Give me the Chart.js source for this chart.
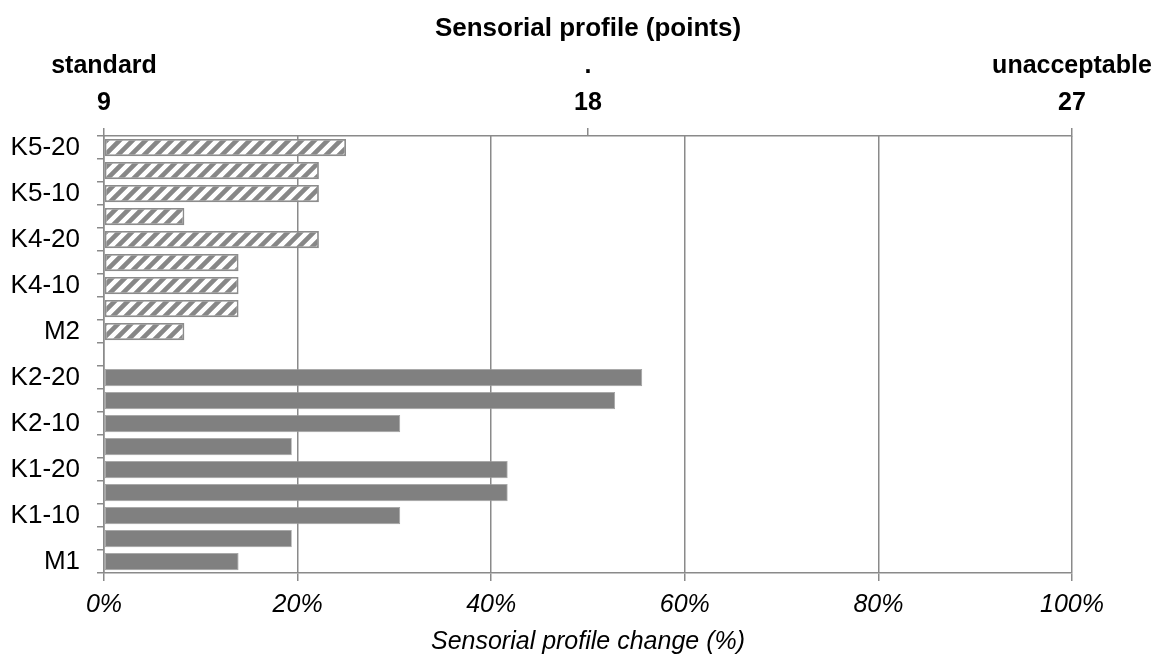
<!DOCTYPE html>
<html>
<head>
<meta charset="utf-8">
<script src="https://cdn.jsdelivr.net/npm/chart.js@4/dist/chart.umd.min.js"></script>
<style>
  html, body { margin: 0; padding: 0; background: #fff; }
  #wrap { width: 1154px; height: 659px; }
</style>
</head>
<body>
<div id="wrap"><canvas id="c" width="1154" height="659"></canvas></div>
<script>
// ---- data ----
const hatchedCategories = ['K5-20', 'K5-15', 'K5-10', 'K5-5', 'K4-20', 'K4-15', 'K4-10', 'K4-5', 'M2'];
const hatchedValues     = [25.0, 22.2, 22.2, 8.3, 22.2, 13.9, 13.9, 13.9, 8.3];
const solidCategories   = ['K2-20', 'K2-15', 'K2-10', 'K2-5', 'K1-20', 'K1-15', 'K1-10', 'K1-5', 'M1'];
const solidValues       = [55.6, 52.8, 30.6, 19.4, 41.7, 41.7, 30.6, 19.4, 13.9];
const percentTicks      = [0, 20, 40, 60, 80, 100];
const pointTicks        = [9, 18, 27];
const pointTickWords    = ['standard', '.', 'unacceptable'];

// ---- build ----
const labels = [...hatchedCategories, '', ...solidCategories];
const hatchedData = [...hatchedValues, null, ...solidValues.map(() => null)];
const solidData = [...hatchedValues.map(() => null), null, ...solidValues];

function makeHatch() {
  const s = 13;
  const c = document.createElement('canvas');
  c.width = s; c.height = s;
  const g = c.getContext('2d');
  g.fillStyle = '#ffffff';
  g.fillRect(0, 0, s, s);
  g.strokeStyle = '#878787';
  g.lineWidth = 4.6;
  g.beginPath();
  g.moveTo(-s / 2, s / 2); g.lineTo(s / 2, -s / 2);
  g.moveTo(0, s); g.lineTo(s, 0);
  g.moveTo(s / 2, s * 1.5); g.lineTo(s * 1.5, s / 2);
  g.stroke();
  return document.getElementById('c').getContext('2d').createPattern(c, 'repeat');
}

const FONT = "'Liberation Sans', Arial, sans-serif";
const gridGray = '#8a8a8a';

new Chart(document.getElementById('c'), {
  type: 'bar',
  data: {
    labels: labels,
    datasets: [
      {
        data: hatchedData,
        backgroundColor: makeHatch(),
        borderColor: '#8c8c8c',
        borderWidth: 1.8,
        borderSkipped: false,
        grouped: false,
        categoryPercentage: 1,
        barPercentage: 0.75
      },
      {
        data: solidData,
        backgroundColor: '#808080',
        borderColor: '#a0a0a0',
        borderWidth: 0.8,
        borderSkipped: false,
        grouped: false,
        categoryPercentage: 1,
        barPercentage: 0.75
      }
    ]
  },
  options: {
    indexAxis: 'y',
    responsive: false,
    animation: false,
    layout: { padding: { left: 0, right: 82, top: 0, bottom: 0 } },
    plugins: { legend: { display: false }, tooltip: { enabled: false } },
    scales: {
      y: {
        type: 'category',
        position: 'left',
        offset: true,
        afterFit: s => { s.width = 104; s.paddingTop = 0; s.paddingBottom = 0; },
        grid: {
          display: true,
          drawOnChartArea: false,
          drawTicks: true,
          tickLength: 7,
          offset: true,
          color: gridGray,
          lineWidth: 1.5
        },
        border: { display: true, color: gridGray, width: 1.5 },
        ticks: {
          autoSkip: false,
          padding: 17,
          color: '#000',
          font: { family: FONT, size: 26 },
          callback: function (v, i) { return i % 2 === 0 ? labels[i] : ''; }
        }
      },
      x: {
        type: 'linear',
        position: 'bottom',
        min: 0,
        max: 100,
        afterFit: s => { s.height = 86; s.paddingLeft = 0; s.paddingRight = 0; },
        afterBuildTicks: s => { s.ticks = percentTicks.map(v => ({ value: v })); },
        grid: {
          display: true,
          drawOnChartArea: true,
          drawTicks: true,
          tickLength: 8,
          color: gridGray,
          lineWidth: 1.5
        },
        border: { display: true, color: gridGray, width: 1.5 },
        ticks: {
          padding: 9,
          color: '#000',
          font: { family: FONT, size: 25, style: 'italic', lineHeight: 1.2 },
          callback: v => v + '%'
        },
        title: {
          display: true,
          text: 'Sensorial profile change (%)',
          color: '#000',
          font: { family: FONT, size: 25, style: 'italic', lineHeight: 1.2 },
          padding: { top: 0, bottom: 2 }
        }
      },
      x2: {
        type: 'linear',
        position: 'top',
        min: 9,
        max: 27,
        afterFit: s => { s.height = 136; s.paddingLeft = 0; s.paddingRight = 0; },
        afterBuildTicks: s => { s.ticks = pointTicks.map(v => ({ value: v })); },
        grid: {
          display: true,
          drawOnChartArea: false,
          drawTicks: true,
          tickLength: 8,
          color: gridGray,
          lineWidth: 1.5
        },
        border: { display: true, color: gridGray, width: 1.5 },
        ticks: {
          padding: 6,
          color: '#000',
          font: { family: FONT, size: 25, weight: 'bold', lineHeight: 1.5 },
          callback: function (v) {
            const i = pointTicks.indexOf(v);
            return [pointTickWords[i], String(v)];
          }
        },
        title: {
          display: true,
          text: 'Sensorial profile (points)',
          color: '#000',
          font: { family: FONT, size: 26, weight: 'bold', lineHeight: 1.2 },
          padding: { top: 13, bottom: 0 }
        }
      }
    }
  }
});
</script>
</body>
</html>
